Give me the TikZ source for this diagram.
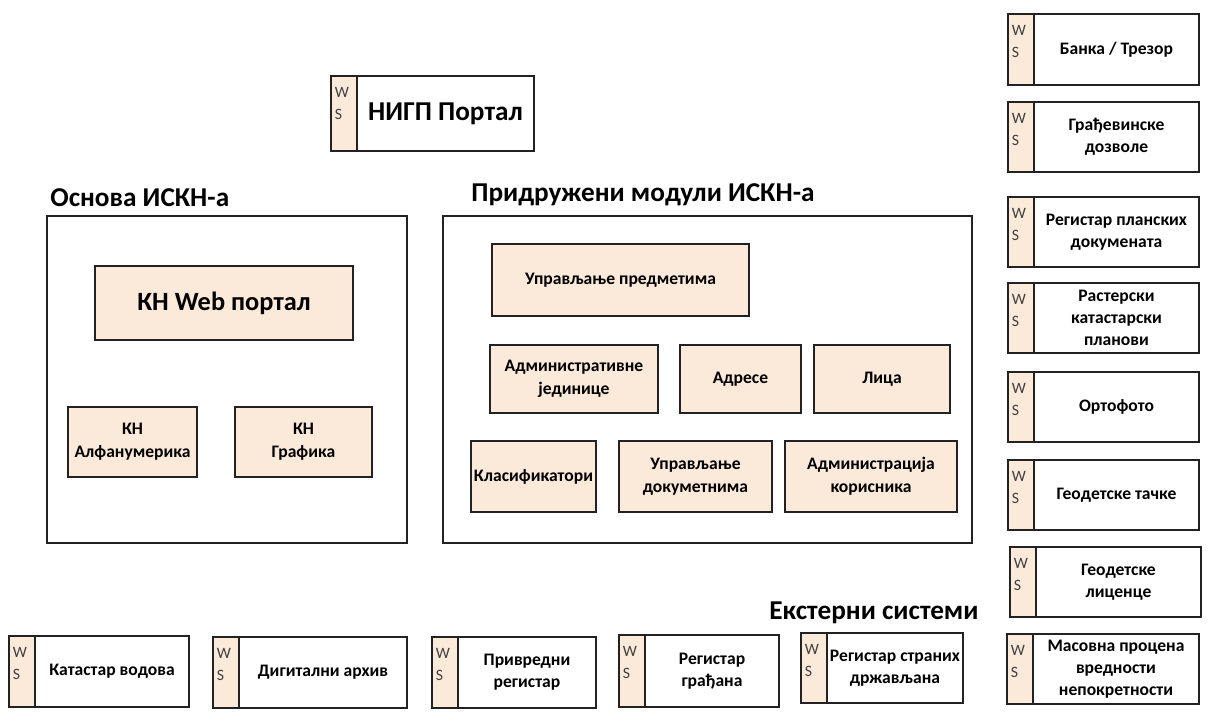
\documentclass[tikz,border=0pt]{standalone}
\usepackage{fontspec}
\setmainfont{Carlito}
\definecolor{wsfill}{HTML}{FBE9DA}
\definecolor{edge}{HTML}{222222}
\tikzset{
  boxline/.style={draw=edge, line width=1.1pt, anchor=north west, outer sep=0pt, inner sep=1pt},
  wslabel/.style={anchor=north west, align=left, inner sep=0pt, xshift=0.07cm, yshift=-0.22cm, text=black!75, font=\fontsize{9}{12.5}\selectfont},
  wsstrip/.style={boxline, fill=wsfill, minimum width=0.52cm, label={[wslabel]north west:{W\\S}}},
  wsbody/.style={boxline, fill=white, align=center, font=\bfseries\fontsize{10}{12.5}\selectfont},
  module/.style={boxline, fill=wsfill, align=center, font=\bfseries\fontsize{10}{13}\selectfont},
  modgroup/.style={boxline},
  grouptitle/.style={anchor=base west, inner sep=0pt, font=\bfseries\fontsize{15.5}{18}\selectfont}
}
\begin{document}
\begin{tikzpicture}
\useasboundingbox (0,0) rectangle (24.18,-14.44);
\node[wsstrip, minimum height=1.50cm] (nigpws) at (6.62,-1.52) {};
\node[wsbody, minimum width=3.54cm, minimum height=1.50cm, font=\bfseries\fontsize{15.5}{18}\selectfont] (nigp) at (nigpws.north east) {НИГП Портал};
\node[grouptitle] (osnovatitle) at (1.0,-4.14) {Основа ИСКН-а};
\node[modgroup, minimum width=7.20cm, minimum height=6.54cm] (osnova) at (0.94,-4.32) {};
\node[module, minimum width=5.16cm, minimum height=1.48cm, font=\bfseries\fontsize{15}{18}\selectfont] (webportal) at (1.90,-5.32) {КН Web портал};
\node[module, minimum width=2.58cm, minimum height=1.40cm] (alfa) at (1.36,-8.14) {КН\\Алфанумерика};
\node[module, minimum width=2.74cm, minimum height=1.40cm] (grafika) at (4.70,-8.14) {КН\\Графика};
\node[grouptitle] (moduletitle) at (9.42,-4.04) {Придружени модули ИСКН-а};
\node[modgroup, minimum width=10.58cm, minimum height=6.54cm] (moduli) at (8.86,-4.32) {};
\node[module, minimum width=5.14cm, minimum height=1.44cm] (predmeti) at (9.84,-4.88) {Управљање предметима};
\node[module, minimum width=3.36cm, minimum height=1.36cm] (jedinice) at (9.80,-6.90) {Административне\\јединице};
\node[module, minimum width=2.42cm, minimum height=1.36cm] (adrese) at (13.60,-6.90) {Адресе};
\node[module, minimum width=2.72cm, minimum height=1.36cm] (lica) at (16.28,-6.90) {Лица};
\node[module, minimum width=2.50cm, minimum height=1.42cm] (klasif) at (9.42,-8.82) {Класификатори};
\node[module, minimum width=3.06cm, minimum height=1.42cm] (dokumenti) at (12.38,-8.82) {Управљање\\докуметнима};
\node[module, minimum width=3.44cm, minimum height=1.42cm] (korisnici) at (15.70,-8.82) {Администрација\\корисника};
\node[wsstrip, minimum height=1.42cm] (bankaws) at (20.16,-0.28) {};
\node[wsbody, minimum width=3.30cm, minimum height=1.42cm] (banka) at (bankaws.north east) {Банка / Трезор};
\node[wsstrip, minimum height=1.40cm] (dozvolews) at (20.16,-2.04) {};
\node[wsbody, minimum width=3.30cm, minimum height=1.40cm] (dozvole) at (dozvolews.north east) {Грађевинске\\дозволе};
\node[wsstrip, minimum height=1.40cm] (planws) at (20.16,-3.94) {};
\node[wsbody, minimum width=3.30cm, minimum height=1.40cm] (plan) at (planws.north east) {Регистар планских\\докумената};
\node[wsstrip, minimum height=1.40cm] (rasterws) at (20.16,-5.66) {};
\node[wsbody, minimum width=3.30cm, minimum height=1.40cm] (raster) at (rasterws.north east) {Растерски\\катастарски\\планови};
\node[wsstrip, minimum height=1.40cm] (ortows) at (20.16,-7.44) {};
\node[wsbody, minimum width=3.30cm, minimum height=1.40cm] (orto) at (ortows.north east) {Ортофото};
\node[wsstrip, minimum height=1.40cm] (tackews) at (20.16,-9.20) {};
\node[wsbody, minimum width=3.30cm, minimum height=1.40cm] (tacke) at (tackews.north east) {Геодетске тачке};
\node[wsstrip, minimum height=1.40cm] (licencews) at (20.20,-10.94) {};
\node[wsbody, minimum width=3.30cm, minimum height=1.40cm] (licence) at (licencews.north east) {Геодетске\\лиценце};
\node[wsstrip, minimum height=1.40cm] (procenaws) at (20.14,-12.68) {};
\node[wsbody, minimum width=3.32cm, minimum height=1.40cm] (procena) at (procenaws.north east) {Масовна процена\\вредности\\непокретности};
\node[grouptitle] (eksternititle) at (15.38,-12.40) {Екстерни системи};
\node[wsstrip, minimum height=1.42cm] (vodoviws) at (0.18,-12.72) {};
\node[wsbody, minimum width=3.08cm, minimum height=1.42cm] (vodovi) at (vodoviws.north east) {Катастар водова};
\node[wsstrip, minimum height=1.42cm] (arhivws) at (4.26,-12.74) {};
\node[wsbody, minimum width=3.36cm, minimum height=1.42cm] (arhiv) at (arhivws.north east) {Дигитални архив};
\node[wsstrip, minimum height=1.42cm] (privredaws) at (8.64,-12.74) {};
\node[wsbody, minimum width=2.76cm, minimum height=1.42cm] (privreda) at (privredaws.north east) {Привредни\\регистар};
\node[wsstrip, minimum height=1.44cm] (gradjaniws) at (12.38,-12.70) {};
\node[wsbody, minimum width=2.68cm, minimum height=1.44cm] (gradjani) at (gradjaniws.north east) {Регистар\\грађана};
\node[wsstrip, minimum height=1.40cm] (strancews) at (16.02,-12.66) {};
\node[wsbody, minimum width=2.72cm, minimum height=1.40cm] (stranci) at (strancews.north east) {Регистар страних\\држављана};
\end{tikzpicture}
\end{document}
